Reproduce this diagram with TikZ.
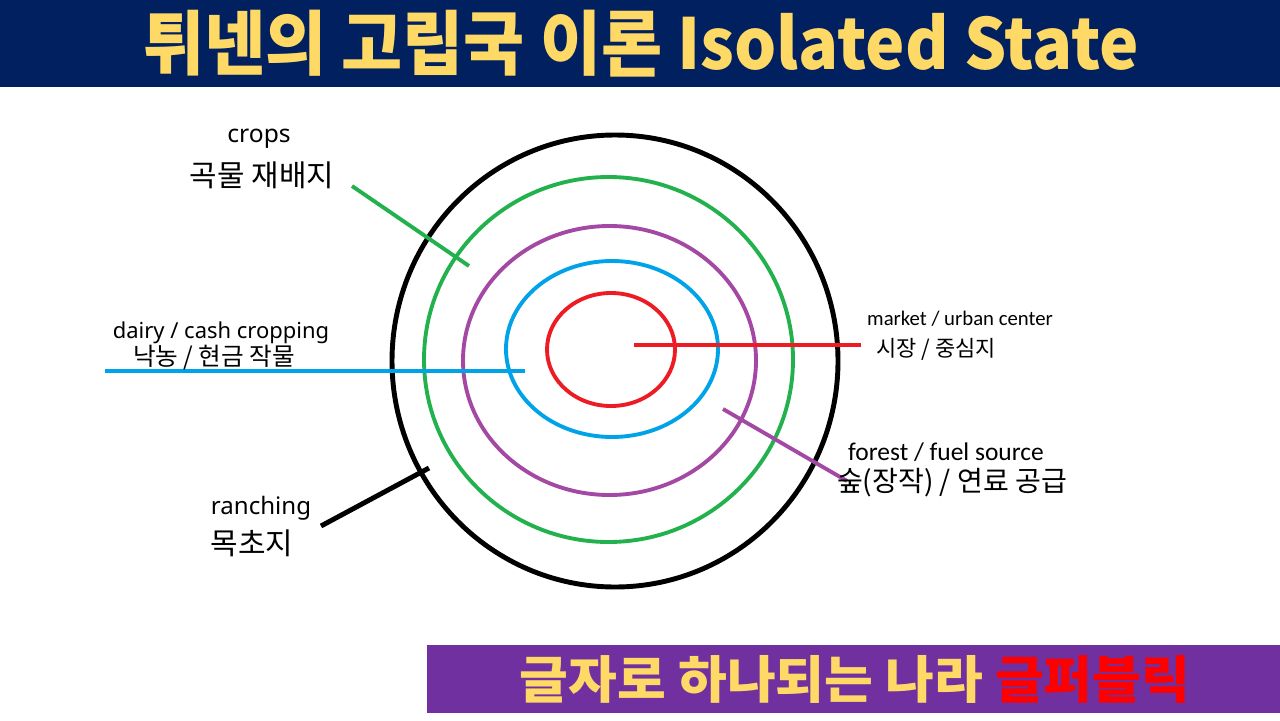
\documentclass[tikz,border=0pt]{standalone}
\usepackage{fontspec}
\setmainfont{Noto Sans CJK KR}
\newfontfamily\latinfont{Noto Sans}
\newfontfamily\carfont{Carlito}
\usepackage{xcolor}
\definecolor{navy}{RGB}{0,32,96}
\definecolor{gold}{RGB}{255,217,102}
\definecolor{plum}{RGB}{112,48,160}
\definecolor{ringgreen}{RGB}{34,177,76}
\definecolor{ringpurple}{RGB}{163,73,164}
\definecolor{ringblue}{RGB}{0,162,232}
\definecolor{ringred}{RGB}{237,28,36}

\begin{document}
\begin{tikzpicture}[x=0.02cm, y=-0.02cm, ring/.style={line width=2.2pt}, lbl/.style={inner sep=0pt}]
                \useasboundingbox (0,0) rectangle (1280,720);
                \fill[white] (0,0) rectangle (1280,720);
                % title bar
                \fill[navy] (0,0) rectangle (1280,87);
                \node[gold, font=\bfseries\fontsize{40}{40}\selectfont] (title) at (641,44) {\scalebox{0.945}[1]{튀넨의 고립국 이론 Isolated State}};
                % rings
                \draw[black, line width=2.8pt] (615,361) ellipse (223 and 226);
                \draw[ringgreen, ring] (608.5,359.5) ellipse (184.5 and 182.5);
                \draw[ringpurple, ring] (609.5,360.5) ellipse (146.5 and 134.5);
                \draw[ringblue, ring] (612,349) ellipse (106 and 88);
                \draw[ringred, ring] (611,349.5) ellipse (64 and 56.5);
                % leader lines
                \coordinate (crops-a) at (352,186);
                \coordinate (crops-b) at (469,266);
                \coordinate (dairy-a) at (105,371);
                \coordinate (dairy-b) at (525,371);
                \coordinate (market-a) at (634,345);
                \coordinate (market-b) at (861,345);
                \coordinate (forest-a) at (723,409);
                \coordinate (forest-b) at (847,481);
                \coordinate (ranch-a) at (321,526);
                \coordinate (ranch-b) at (429,468);
                \draw[ringgreen, ring] (crops-a) -- (crops-b);
                \draw[ringblue, ring] (dairy-a) -- (dairy-b);
                \draw[ringred, ring] (market-a) -- (market-b);
                \draw[ringpurple, ring] (forest-a) -- (forest-b);
                \draw[black, line width=2.8pt] (ranch-a) -- (ranch-b);
                % labels
                \node[lbl, font=\latinfont\fontsize{14}{14}\selectfont] (cropsEn) at (259,139) {crops};
                \node[lbl, font=\fontsize{17}{17}\selectfont] (cropsKo) at (262,175) {곡물 재배지};
                \node[lbl, font=\latinfont\fontsize{12.5}{12.5}\selectfont] (dairyEn) at (221,333) {dairy / cash cropping};
                \node[lbl, font=\fontsize{14}{14}\selectfont] (dairyKo) at (214,358) {낙농 / 현금 작물};
                \node[lbl, font=\carfont\fontsize{11.8}{11.8}\selectfont] (marketEn) at (960,319) {market / urban center};
                \node[lbl, font=\fontsize{12.5}{12.5}\selectfont] (marketKo) at (936,349) {시장 / 중심지};
                \node[lbl, font=\carfont\fontsize{14.5}{14.5}\selectfont] (forestEn) at (946,452) {forest / fuel source};
                \node[lbl, font=\fontsize{16}{16}\selectfont] (forestKo) at (952,483) {숲(장작) / 연료 공급};
                \node[lbl, font=\latinfont\fontsize{13.7}{13.7}\selectfont] (ranchEn) at (261,508) {ranching};
                \node[lbl, font=\fontsize{17}{17}\selectfont] (ranchKo) at (252,543) {목초지};
                % footer bar
                \fill[plum] (427,645) rectangle (1280,713);
                \node[font=\bfseries\fontsize{29}{29}\selectfont] (footer) at (855,679) {\scalebox{1.04}[1]{\textcolor{gold}{글자로 하나되는 나라} \textcolor{red}{글퍼블릭}}};
            \end{tikzpicture}
\end{document}
